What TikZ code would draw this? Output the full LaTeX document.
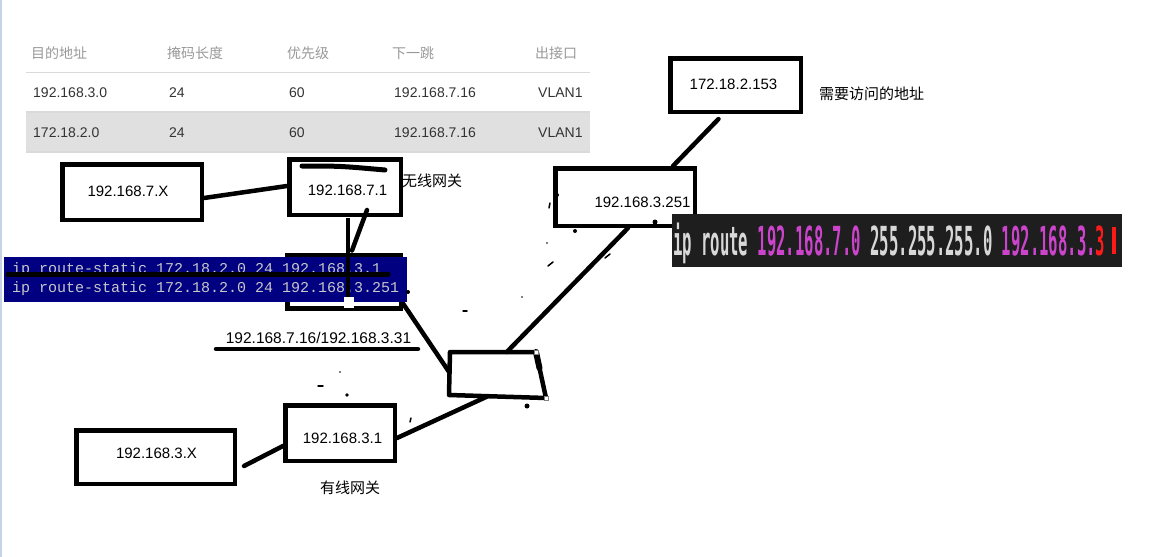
\documentclass[tikz,border=0pt]{standalone}
\usepackage{fontspec}
\usepackage{graphicx}
\setmainfont{Liberation Sans}
\newfontfamily\cjk{Noto Sans CJK SC}
\newfontfamily\consolefont{Liberation Mono}
\newfontfamily\termfont{DejaVu Sans Mono}
\usetikzlibrary{calc}
\definecolor{hdr}{HTML}{999999}
\definecolor{bodytxt}{HTML}{333333}
\definecolor{rulegray}{HTML}{DADADA}
\definecolor{band}{HTML}{E0E0E0}
\definecolor{navybar}{HTML}{000080}
\definecolor{consoletxt}{HTML}{C8C8C8}
\definecolor{termbg}{HTML}{1E1E1E}
\definecolor{termtxt}{HTML}{D8D8D8}
\definecolor{magent}{HTML}{CC44CC}
\definecolor{redmark}{HTML}{FF1A1A}
\definecolor{edgeblue}{HTML}{C5D3E8}
\begin{document}
\begin{tikzpicture}[x=1pt,y=-1pt,
  box/.style={draw=black, line width=4.5pt, fill=white, inner sep=0pt},
  boxtext/.style={inner sep=0pt, text=black, font=\fontsize{15pt}{18pt}\selectfont},
  wire/.style={line width=4.5pt, line cap=round},
  hdrtext/.style={anchor=base west, inner sep=0pt, text=hdr, font=\cjk\fontsize{14pt}{16pt}\selectfont},
  celltext/.style={anchor=base west, inner sep=0pt, text=bodytxt, font=\fontsize{14pt}{16pt}\selectfont},
  note/.style={inner sep=0pt, text=black, font=\cjk\fontsize{15pt}{18pt}\selectfont},
  consoleline/.style={anchor=base west, inner sep=0pt, text=consoletxt, font=\consolefont\fontsize{15pt}{18pt}\selectfont},
  handle/.style={draw=gray, fill=white, line width=0.6pt, minimum size=4pt, inner sep=0pt},
  speck/.style={line width=1.5pt, line cap=round}
]
\useasboundingbox (0,0) rectangle (1173,557);
\fill[white] (0,0) rectangle (1173,557);
\draw[edgeblue, line width=1.5pt] (0.75,0) -- (0.75,557);

% ---------------- table ----------------
\fill[band] (26,112) rectangle (590,152);
\draw[rulegray, line width=1.3pt] (26,72.7) -- (590,72.7);
\draw[rulegray, line width=1.3pt] (26,112) -- (590,112);
\draw[rulegray, line width=1.3pt] (26,152) -- (590,152);
\node[hdrtext] (h1) at (31,58) {目的地址};
\node[hdrtext] (h2) at (167,58) {掩码长度};
\node[hdrtext] (h3) at (287,58) {优先级};
\node[hdrtext] (h4) at (392,58) {下一跳};
\node[hdrtext] (h5) at (535,58) {出接口};
\node[celltext] (r11) at (33,97.7) {192.168.3.0};
\node[celltext] (r12) at (169,97.7) {24};
\node[celltext] (r13) at (289,97.7) {60};
\node[celltext] (r14) at (394,97.7) {192.168.7.16};
\node[celltext] (r15) at (538,97.7) {VLAN1};
\node[celltext] (r21) at (33,137) {172.18.2.0};
\node[celltext] (r22) at (169,137) {24};
\node[celltext] (r23) at (289,137) {60};
\node[celltext] (r24) at (394,137) {192.168.7.16};
\node[celltext] (r25) at (538,137) {VLAN1};

% ---------------- boxes ----------------
\node[box, minimum width=139.5pt, minimum height=55.5pt] (b7x) at (132,192) {};
\node[boxtext] (t7x) at (128,191) {192.168.7.X};
\node[box, minimum width=111.5pt, minimum height=55.5pt] (b71) at (345,187) {};
\node[boxtext] (t71) at (347.5,190) {192.168.7.1};
\node[box, minimum width=113.5pt, minimum height=53.5pt] (bhid) at (344,281.5) {};
\node[box, minimum width=139.5pt, minimum height=57.5pt] (b3251) at (625,197) {};
\node[boxtext] (t3251) at (642.5,202) {192.168.3.251};
\node[box, minimum width=130.5pt, minimum height=53.5pt] (b172) at (735.5,85) {};
\node[boxtext] (t172) at (733.5,84) {172.18.2.153};
\node[box, minimum width=109.5pt, minimum height=55.5pt] (b31) at (340,433) {};
\node[boxtext] (t31) at (342.5,438) {192.168.3.1};
\node[box, minimum width=158.5pt, minimum height=53.5pt] (b3x) at (155.5,457) {};
\node[boxtext] (t3x) at (156.5,453) {192.168.3.X};

% switch (hand drawn quadrilateral)
\coordinate (sw1) at (450,352);
\coordinate (sw2) at (536,352);
\coordinate (sw3) at (546,398);
\coordinate (sw4) at (449,395);
\draw[wire, line join=round] (sw1) -- (sw2) -- (sw3) -- (sw4) -- cycle;
\draw[line width=6pt, line cap=round] (sw2) -- ($(sw2)!0.35!(sw3)$);

% scribble on top of 192.168.7.1
\draw[line width=5pt, line cap=round] (302,166) .. controls (340,166) .. (385,170);

% notes
\node[note, anchor=west] (n1) at (402,181) {无线网关};
\node[note, anchor=west] (n2) at (819,94) {需要访问的地址};
\node[note] (n3) at (350,488) {有线网关};
\node[boxtext, font=\fontsize{15.5pt}{18pt}\selectfont] (lbl) at (318.5,338) {192.168.7.16/192.168.3.31};
\draw[wire] (216,349) -- (418,349);

% ---------------- connectors ----------------
\draw[wire] ([yshift=-6pt]b7x.east) -- ([yshift=1pt]b71.west);
\draw[wire] ([xshift=22pt,yshift=7pt]b71.south) -- ([xshift=8pt,yshift=2pt]bhid.north);
\draw[wire] ([yshift=7pt]bhid.south east) -- ($(sw1)!0.48!(sw4)$);
\draw[wire] ($(sw1)!0.66!(sw2)$) -- ([xshift=3pt]b3251.south);
\draw[wire] ([xshift=-17pt,yshift=-5pt]b172.south) -- ([xshift=48pt]b3251.north);
\draw[wire] ($(sw4)!0.4!(sw3)$) -- ([yshift=-5pt]b31.east);
\draw[wire] ([xshift=7pt,yshift=-9pt]b3x.east) -- ([yshift=-13pt]b31.west);

% ---------------- blue console overlay ----------------
\fill[navybar] (4,257) rectangle (407,302);
\node[consoleline] (c1) at (12,273) {ip route-static 172.18.2.0 24 192.168.3.1};
\node[consoleline] (c2) at (12,292) {ip route-static 172.18.2.0 24 192.168.3.251};
\draw[line width=5pt, line cap=round] (8,274) -- (388,274);
\draw[line width=4.5pt] ([xshift=3pt,yshift=-1pt]b71.south) -- (348,298);
\fill[white] (344,297) rectangle (354,308);

% ---------------- dark terminal ----------------
\fill[termbg] (672,214) rectangle (1122,267);
\node[anchor=base west, inner sep=0pt] (term) at (673,255) {\scalebox{0.39}[1]{\termfont\bfseries\fontsize{40pt}{40pt}\selectfont\color{termtxt}ip route \textcolor{magent}{192.168.7.0} 255.255.255.0 \textcolor{magent}{192.168.3.}\textcolor{redmark}{3}}};
\fill[redmark] (1112,227) rectangle (1116,254);

% handles and stray marks
\node[handle] (hd1) at (sw2) {};
\node[handle] (hd2) at (sw3) {};
\fill (527,406) circle (2.5pt);
\fill (408,292) circle (2pt);
\fill (347,395) circle (1.8pt);
\fill (340,372) circle (0.8pt);
\draw[speck] (318,386) -- (323,386);
\draw[speck] (411,418) -- (410,422);
\draw[speck] (463,311) -- (467,311);
\fill (547,243) circle (0.8pt);
\draw[speck] (548,266) -- (553,262);
\fill (522,297) circle (0.8pt);
\fill (557,195) circle (2pt);
\draw[speck] (550,203) -- (549,208);
\fill (575,231) circle (2pt);
\fill (655,222) circle (2.5pt);
\draw[speck] (605,258) -- (610,254);
\end{tikzpicture}
\end{document}
